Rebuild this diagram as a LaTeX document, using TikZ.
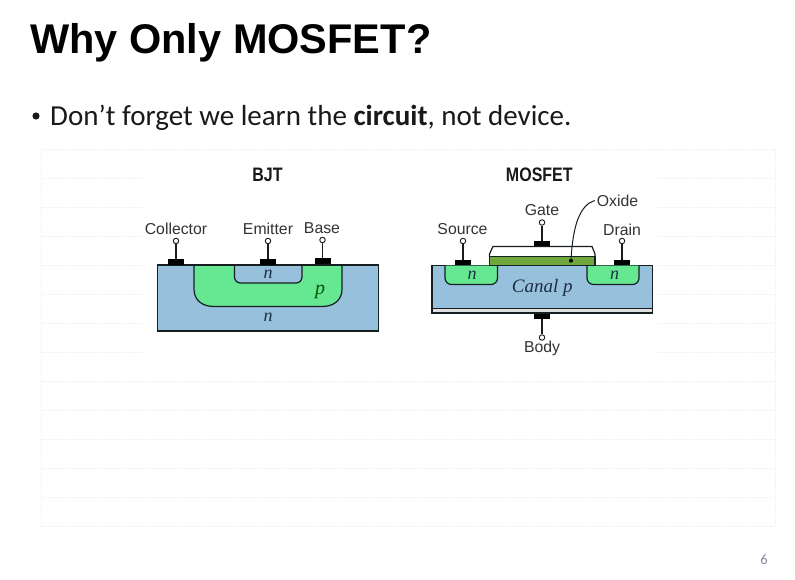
\documentclass[tikz,border=0pt]{standalone}
\usepackage{fontspec}
\setmainfont{Liberation Sans}
\newfontfamily\bodyfont{Carlito}
\newfontfamily\dsfont{Liberation Serif}
\definecolor{siblue}{RGB}{150,192,219}
\definecolor{sigreen}{RGB}{102,232,146}
\definecolor{oxgreen}{RGB}{112,168,62}
\definecolor{linek}{RGB}{22,30,34}
\definecolor{gridc}{RGB}{240,240,240}
\definecolor{pagenum}{RGB}{125,140,155}
\definecolor{dopant}{RGB}{30,45,70}
\tikzset{
  x=1pt,y=-1pt,
  contact/.style={fill=black,inner sep=0,minimum width=16pt,minimum height=5.2pt,draw=none},
  terminal/.style={circle,draw=linek,fill=white,line width=.9pt,inner sep=0,minimum size=5.5pt},
  stem/.style={draw=linek,line width=1.3pt},
  lbl/.style={font=\fontsize{15.8}{15.8}\selectfont,text=black!80,inner sep=0},
  head/.style={font=\fontsize{19.5}{19.5}\selectfont\bfseries,text=black!90,inner sep=0,xscale=.82},
  dop/.style={font=\dsfont\itshape\fontsize{18}{18}\selectfont,text=dopant,inner sep=0},
  region/.style={draw=linek,line width=1.2pt},
  gridline/.style={draw=gridc,line width=.7pt,densely dotted}
}
\begin{document}
\begin{tikzpicture}
\useasboundingbox (0,0) rectangle (795,580);
\fill[white] (0,0) rectangle (795,580);
% faint background grid
\foreach \yy in {149,381,410,439,468,497,526} \draw[gridline] (41,\yy) -- (775,\yy);
\foreach \yy in {178,207,236,265,294,323,352} {
  \draw[gridline] (41,\yy) -- (143,\yy);
  \draw[gridline] (655,\yy) -- (775,\yy);
}
\draw[gridline] (41,149) -- (41,526);
\draw[gridline] (775,149) -- (775,526);
% title and bullet
\node[anchor=base west,inner sep=0,font=\fontsize{41.5}{41.5}\selectfont\bfseries] (title) at (30,54) {Why Only MOSFET?};
\node[anchor=base west,inner sep=0,font=\bodyfont\fontsize{29}{29}\selectfont,text=black!90] (bulletitem) at (50,126) {Don’t forget we learn the \textbf{circuit}, not device.};
\fill[black!90] (36,116) circle (3.6);
\node[anchor=base,inner sep=0,font=\bodyfont\fontsize{14.5}{14.5}\selectfont,text=pagenum] (pagenr) at (764,564) {6};
% BJT
\draw[region,fill=siblue] (157.5,265) rectangle (378.5,331);
\draw[region,fill=sigreen] (194,265) -- (194,289)
  .. controls (194,300) and (202,306.5) .. (214,306.5) -- (322,306.5) .. controls (334,306.5) and (342,300) .. (342,289) -- (342,265);
\draw[region,fill=siblue] (234.5,265) -- (234.5,277) arc[start angle=180,end angle=90,radius=6] -- (296,283) arc[start angle=90,end angle=0,radius=6] -- (302,265);
\draw[line width=1.2pt,draw=linek] (157.5,265) -- (378.5,265);
\node[head] (bjt) at (267.5,175) {BJT};
\node[contact] (cc) at (176,262) {};
\node[contact] (ce) at (268,262) {};
\node[contact] (cb) at (322.5,261) {};
\node[terminal] (tc) at (176,241) {};
\node[terminal] (te) at (268,241) {};
\node[terminal] (tb) at (322.5,240) {};
\draw[stem] (tc) -- (cc);
\draw[stem] (te) -- (ce);
\draw[stem] (tb) -- (cb);
\node[lbl] (lc) at (176,228.5) {Collector};
\node[lbl] (le) at (268,229) {Emitter};
\node[lbl] (lb) at (322,228) {Base};
\node[dop] (n1) at (268,274) {n};
\node[dop,text=black!65!green,font=\dsfont\itshape\fontsize{20}{20}\selectfont] (p1) at (320,292) {p};
\node[dop] (n2) at (268,317.5) {n};
% MOSFET
\draw[draw=linek,line width=1.2pt,fill=black!12] (432,265.5) rectangle (652.5,313.5);
\fill[linek] (432,311.5) rectangle (652.5,314);
\draw[region,fill=siblue] (432,265.5) rectangle (652.5,308.5);
\draw[region,fill=sigreen] (445,265.5) -- (445,278) arc[start angle=180,end angle=90,radius=6.5] -- (491,284.5) arc[start angle=90,end angle=0,radius=6.5] -- (497.5,265.5);
\draw[region,fill=sigreen] (587,265.5) -- (587,278) arc[start angle=180,end angle=90,radius=6.5] -- (632.5,284.5) arc[start angle=90,end angle=0,radius=6.5] -- (639,265.5);
\draw[region,fill=white] (489.5,257) -- (489.5,254) -- (493,246.5) -- (592,246.5) -- (595,254) -- (595,257);
\draw[region,fill=oxgreen] (489.5,256.5) rectangle (595,265.5);
\node[head] (mosfet) at (539.3,175) {MOSFET};
\node[contact] (cs) at (463,262.5) {};
\node[contact] (cg) at (542,243.5) {};
\node[contact] (cd) at (622,262.5) {};
\node[contact] (cbody) at (542,316.5) {};
\node[terminal] (ts) at (463,241) {};
\node[terminal] (tg) at (542,222.5) {};
\node[terminal] (td) at (622,241) {};
\node[terminal] (tbody) at (542,337.5) {};
\draw[stem] (ts) -- (cs);
\draw[stem] (tg) -- (cg);
\draw[stem] (td) -- (cd);
\draw[stem] (tbody) -- (cbody);
\node[lbl] (ls) at (462.5,229.5) {Source};
\node[lbl] (lg) at (542,210) {Gate};
\node[lbl] (ld) at (622,230) {Drain};
\node[lbl] (lo) at (617.5,200.5) {Oxide};
\node[lbl] (lbody) at (542,348) {Body};
\node[circle,fill=black,inner sep=0,minimum size=4pt] (oxdot) at (571,260.7) {};
\draw[linek,line width=1pt] (oxdot) .. controls (573,225) and (580,205) .. ([xshift=-2pt]lo.west);
\node[dop] (n3) at (472,275) {n};
\node[dop] (n4) at (614.5,275) {n};
\node[dop,font=\dsfont\itshape\fontsize{19}{19}\selectfont] (canal) at (542.3,287.5) {Canal p};
\end{tikzpicture}
\end{document}
